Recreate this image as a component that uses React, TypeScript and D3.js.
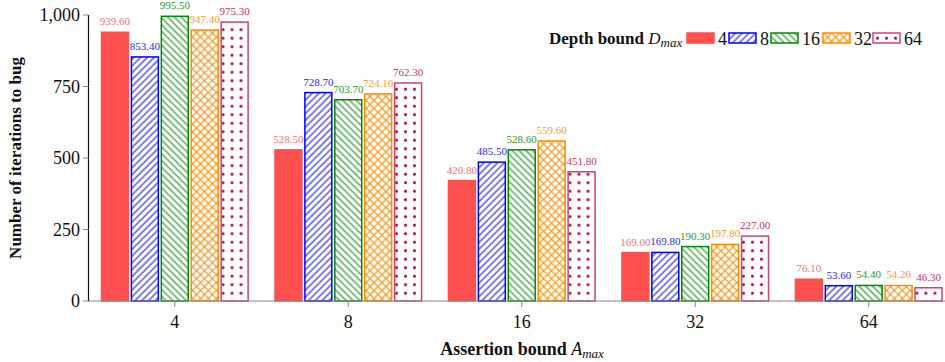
import React from 'react';
import { scaleBand, scaleLinear, format } from 'd3';

const assertionBounds = ['4', '8', '16', '32', '64'];
const depthBounds = ['4', '8', '16', '32', '64'];
const depth4 = [939.6, 528.5, 420.8, 169.0, 76.1];
const depth8 = [853.4, 728.7, 485.5, 169.8, 53.6];
const depth16 = [995.5, 703.7, 528.6, 190.3, 54.4];
const depth32 = [947.4, 724.1, 559.6, 197.8, 54.2];
const depth64 = [975.3, 762.3, 451.8, 227.0, 46.3];
const yTicks = [0, 250, 500, 750, 1000];

const seriesValues = [depth4, depth8, depth16, depth32, depth64];
const strokes = ['#ff5050', '#0000ff', '#008a00', '#ff8c00', '#cc4477'];
const labelColors = ['#ff7070', '#2a2aff', '#2a9a2a', '#ff9a33', '#cc3366'];
const fills = ['#ff5050', 'url(#hatchBlue)', 'url(#hatchGreen)', 'url(#crossOrange)', 'url(#dotsPink)'];

const W = 945;
const H = 362;
const FONT = 'Liberation Serif, Times New Roman, DejaVu Serif, serif';

function App() {
  const x = scaleBand().domain(assertionBounds).range([88.5, 955]).paddingInner(0.155).paddingOuter(0.075);
  const inner = scaleBand().domain(depthBounds).range([0, x.bandwidth()]).paddingInner(0.1);
  const y = scaleLinear().domain([0, 1000]).range([301, 15]);
  const fmtTick = format(',');
  const fmtVal = format('.2f');

  const legendX = [687, 729, 771, 823, 873];

  return (
    <svg width={W} height={H} style={{ position: 'absolute', left: 0, top: 0, fontFamily: FONT }}>
      <defs>
        <pattern id="hatchBlue" patternUnits="userSpaceOnUse" width={4.8} height={4.8} patternTransform="rotate(45)">
          <rect width={4.8} height={4.8} fill="white" />
          <line x1={1} y1={0} x2={1} y2={4.8} stroke="#0000ff" strokeWidth={1} />
        </pattern>
        <pattern id="hatchGreen" patternUnits="userSpaceOnUse" width={4.8} height={4.8} patternTransform="rotate(-45)">
          <rect width={4.8} height={4.8} fill="white" />
          <line x1={1} y1={0} x2={1} y2={4.8} stroke="#008a00" strokeWidth={1} />
        </pattern>
        <pattern id="crossOrange" patternUnits="userSpaceOnUse" width={5.6} height={5.6} patternTransform="rotate(45)">
          <rect width={5.6} height={5.6} fill="white" />
          <line x1={1} y1={0} x2={1} y2={5.6} stroke="#ff8c00" strokeWidth={1.1} />
          <line x1={0} y1={1} x2={5.6} y2={1} stroke="#ff8c00" strokeWidth={1.1} />
        </pattern>
        <pattern id="dotsPink" patternUnits="userSpaceOnUse" width={9} height={8.5}>
          <rect width={9} height={8.5} fill="white" />
          <circle cx={4.5} cy={4.2} r={1.5} fill="#c00048" />
        </pattern>
      </defs>

      {/* bars */}
      {assertionBounds.map((a, i) => (
        <g key={a} transform={`translate(${x(a)},0)`}>
          {depthBounds.map((d, j) => {
            const v = seriesValues[j][i];
            const bx = inner(d) as number;
            return (
              <g key={d}>
                <rect
                  x={bx}
                  y={y(v)}
                  width={inner.bandwidth()}
                  height={y(0) - y(v)}
                  fill={fills[j]}
                  stroke={strokes[j]}
                  strokeWidth={1.5}
                />
                <text
                  x={bx + inner.bandwidth() / 2}
                  y={y(v) - 7}
                  textAnchor="middle"
                  fontSize={11}
                  fill={labelColors[j]}
                >
                  {fmtVal(v)}
                </text>
              </g>
            );
          })}
        </g>
      ))}

      {/* x axis */}
      <line x1={88.5} x2={W} y1={301} y2={301} stroke="#888" strokeWidth={1.2} />
      {assertionBounds.map((a) => {
        const cx = (x(a) as number) + x.bandwidth() / 2;
        return (
          <g key={a}>
            <line x1={cx} x2={cx} y1={301} y2={307} stroke="#888" />
            <text x={cx} y={328} textAnchor="middle" fontSize={18} fill="#111">
              {a}
            </text>
          </g>
        );
      })}
      <text x={522} y={355} textAnchor="middle" fontSize={18} fill="#111">
        <tspan fontWeight="bold">Assertion bound </tspan>
        <tspan fontStyle="italic">A</tspan>
        <tspan fontStyle="italic" fontSize={13} dy={3}>max</tspan>
      </text>

      {/* y axis */}
      <line x1={88.5} x2={88.5} y1={15} y2={301} stroke="#111" strokeWidth={1.2} />
      {yTicks.map((t) => (
        <g key={t}>
          <line x1={83} x2={88.5} y1={y(t)} y2={y(t)} stroke="#888" />
          <text x={80} y={y(t)} dy="0.35em" textAnchor="end" fontSize={18} fill="#111">
            {fmtTick(t)}
          </text>
        </g>
      ))}
      <text
        transform={`translate(21,158) rotate(-90)`}
        textAnchor="middle"
        fontSize={17}
        fontWeight="bold"
        fill="#111"
      >
        Number of iterations to bug
      </text>

      {/* legend */}
      <text x={549} y={44} fontSize={17} fill="#111">
        <tspan fontWeight="bold">Depth bound </tspan>
        <tspan fontStyle="italic">D</tspan>
        <tspan fontStyle="italic" fontSize={13} dy={3}>max</tspan>
      </text>
      {depthBounds.map((d, j) => (
        <g key={d}>
          <rect x={legendX[j]} y={33} width={27} height={10} fill={fills[j]} stroke={strokes[j]} strokeWidth={1.5} />
          <text x={legendX[j] + 31} y={44.5} fontSize={18} fill="#111">
            {d}
          </text>
        </g>
      ))}
    </svg>
  );
}

export default App;
